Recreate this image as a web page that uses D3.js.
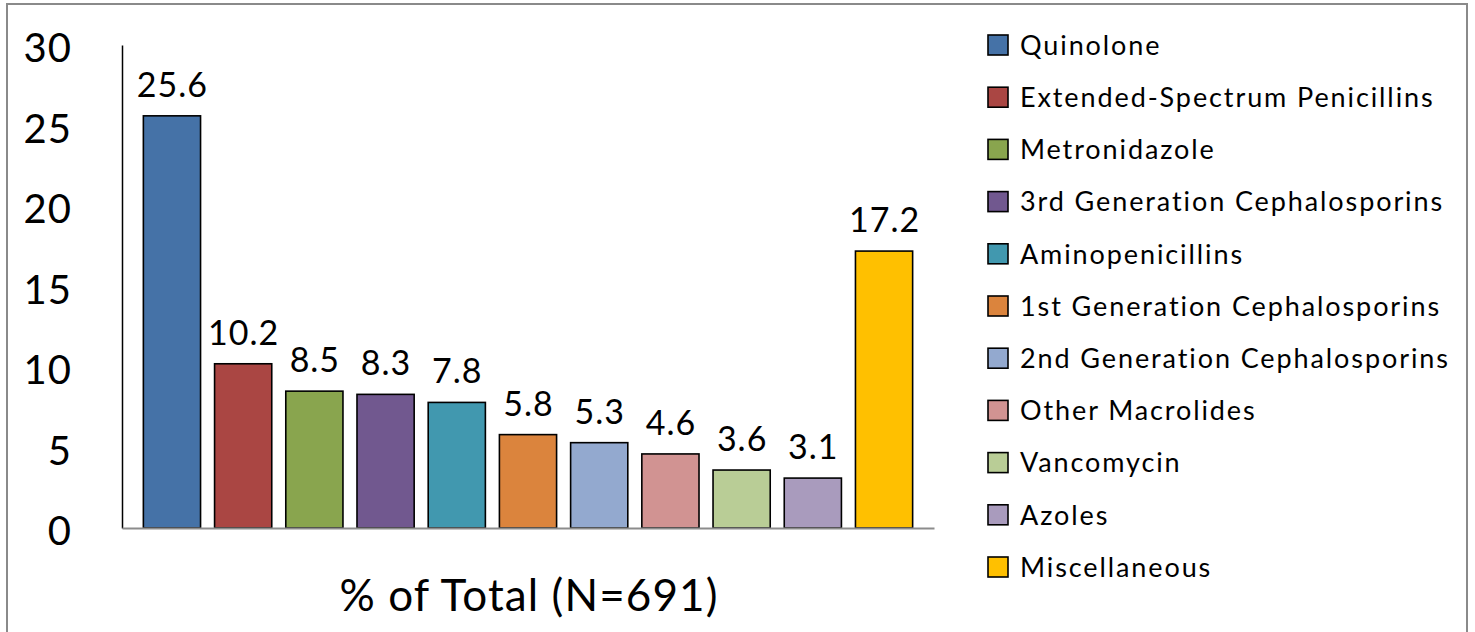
<!DOCTYPE html>
<html>
<head>
<meta charset="utf-8">
<script src="https://cdn.jsdelivr.net/npm/d3@7"></script>
<style>
  html, body { margin: 0; padding: 0; background: #fff; }
  svg { display: block; font-family: Lato, "Open Sans", sans-serif; }
</style>
</head>
<body>
<svg id="chart" width="1475" height="632"></svg>
<script>
// Antibiotic classes, share of total prescriptions (%)
const categories = [
  "Quinolone",
  "Extended-Spectrum Penicillins",
  "Metronidazole",
  "3rd Generation Cephalosporins",
  "Aminopenicillins",
  "1st Generation Cephalosporins",
  "2nd Generation Cephalosporins",
  "Other Macrolides",
  "Vancomycin",
  "Azoles",
  "Miscellaneous"
];
const values = [25.6, 10.2, 8.5, 8.3, 7.8, 5.8, 5.3, 4.6, 3.6, 3.1, 17.2];
const colors = [
  "#4572A7", "#AA4643", "#89A54E", "#71588F", "#4198AF", "#DB843D",
  "#93A9CF", "#D19392", "#B9CD96", "#A99BBD", "#FFC000"
];
const yTicks = [0, 5, 10, 15, 20, 25, 30];
const xTitle = "% of Total (N=691)";

const svg = d3.select("#chart");

// outer frame (no bottom edge)
svg.append("path")
  .attr("d", "M7,632 V4 H1467 V632")
  .attr("fill", "none")
  .attr("stroke", "#8a8a8a")
  .attr("stroke-width", 2);

const x0 = 122, x1 = 934, yBase = 528, yTop = 45;

const x = d3.scaleBand()
  .domain(categories)
  .range([x0, x1])
  .paddingInner(0.197)
  .paddingOuter(0.3);

const y = d3.scaleLinear()
  .domain([0, 30])
  .range([yBase, yTop]);

// y axis: line and tick labels
const yAxis = d3.axisLeft(y).tickValues(yTicks).tickSize(0).tickPadding(50);
const gy = svg.append("g").attr("transform", `translate(${x0},0)`).call(yAxis);
gy.select(".domain").attr("stroke", "#000").attr("stroke-width", 1.5);
gy.selectAll(".tick text")
  .attr("font-family", "Lato, sans-serif")
  .attr("font-size", 40)
  .attr("letter-spacing", 1)
  .attr("fill", "#000")
  .attr("dy", "0.42em");

// bars
svg.append("g").selectAll("rect")
  .data(values)
  .join("rect")
  .attr("x", (d, i) => x(categories[i]))
  .attr("y", d => y(d))
  .attr("width", x.bandwidth())
  .attr("height", d => y(0) - y(d))
  .attr("fill", (d, i) => colors[i])
  .attr("stroke", "#000")
  .attr("stroke-width", 1.6);

// x baseline
const xAxis = d3.axisBottom(x).tickSize(0).tickFormat("");
const gx = svg.append("g").attr("transform", `translate(0,${yBase})`).call(xAxis);
gx.select(".domain").attr("stroke", "#8c8c8c").attr("stroke-width", 2);

// value labels
svg.append("g").selectAll("text")
  .data(values)
  .join("text")
  .attr("x", (d, i) => x(categories[i]) + x.bandwidth() / 2 + 0.5)
  .attr("y", d => y(d) - 19)
  .attr("text-anchor", "middle")
  .attr("font-size", 34)
  .attr("letter-spacing", 1)
  .attr("fill", "#000")
  .text(d => d.toFixed(1));

// x axis title
svg.append("text")
  .attr("x", 529)
  .attr("y", 611)
  .attr("text-anchor", "middle")
  .attr("font-size", 44)
  .attr("letter-spacing", 1.1)
  .attr("fill", "#000")
  .text(xTitle);

// legend
const legend = svg.append("g").attr("transform", "translate(988,0)");
const rowY = d3.scalePoint().domain(categories).range([45, 567]);
const rows = legend.selectAll("g")
  .data(categories)
  .join("g")
  .attr("transform", d => `translate(0,${rowY(d)})`);
rows.append("rect")
  .attr("x", 0).attr("y", -10)
  .attr("width", 20).attr("height", 20)
  .attr("fill", (d, i) => colors[i])
  .attr("stroke", "#000")
  .attr("stroke-width", 1.6);
rows.append("text")
  .attr("x", 32)
  .attr("dy", "0.36em")
  .attr("font-size", 27)
  .attr("letter-spacing", 1.9)
  .attr("fill", "#000")
  .text(d => d);
</script>
</body>
</html>
